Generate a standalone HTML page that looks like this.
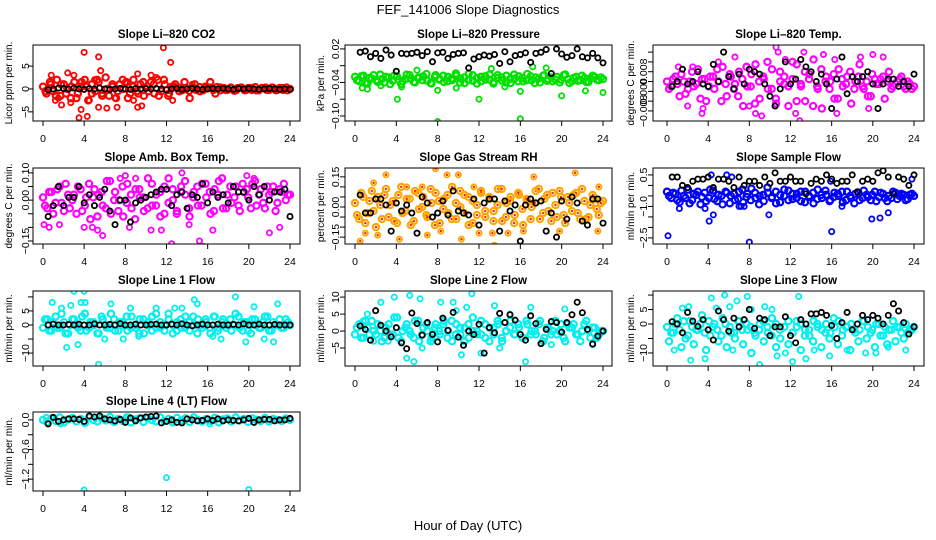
<!DOCTYPE html>
<html><head><meta charset="utf-8">
<style>
html,body{margin:0;padding:0;background:#fff;}
svg{display:block;font-family:"Liberation Sans",Arial,sans-serif;}
.t{font-size:11.5px;font-weight:bold;text-anchor:middle;}
.tk{font-size:10.5px;text-anchor:middle;}
.yl{font-size:10px;text-anchor:middle;}
</style></head>
<body>
<svg id="chart" width="936" height="540" viewBox="0 0 936 540" xmlns="http://www.w3.org/2000/svg">
<text x="468" y="14" style="font-size:13px;text-anchor:middle">FEF_141006  Slope Diagnostics</text>
<text x="468" y="530" style="font-size:13px;text-anchor:middle">Hour of Day (UTC)</text>
</svg>
<script>
const xTicks=[0,4,8,12,16,20,24];
// Panel 1 CO2
const p1Band1=[0.5,-1,1.5,-0.5,2,-1.5,1,0,-2,1.5,-1,0.5,2,-2.5,1,-0.5,1.5,-1,2.5,-1.5,0.5,-2,1,0,1.5,-1,2,-0.5,1,-1.5,0.5,1.5,-1,2,-0.5,1,-1.5,0.5,1,0.3,-0.3,0.2,-0.4,0.3,-0.2,0.4,-0.3,0.2,0.3,-0.2,0.4,-0.3,0.2,-0.2,0.3,-0.4,0.2,0.3,-0.3,0.2,-0.2,0.4,-0.3,0.2,0.3,-0.2,0.3,-0.3,0.2,-0.2,0.3,0];
const p1Band2=[-0.5,1,-1.5,1,-1,0.5,-2,1.5,0.5,-1,2,-1.5,0,1,-0.5,2,-2,0.5,-1,1.5,-0.5,1,-1.5,2,-1,0.5,-0.5,1.5,-2,1,-0.5,0.5,1.5,-1,0.3,-0.2,0.2,-0.3,0.3,-0.2,0.2,-0.3,0.2,-0.2,0.3,-0.2,0.2,-0.3];
const p1OutH=[0.8,1.5,1.8,2.7,3.5,3.7,4,4.3,4.5,5.4,5.6,5.4,6.2,7,7.2,8.8,9.2,9.2,9.6,10.5,11.7,12.4,12.6,14.5,3,2.4,5,1.2,8,11];
const p1OutV=[3,-2,-3.5,-3,-6.3,-4.5,8,-6,-2.5,7,4,-4,-4.2,-2,-4,-2.5,3.3,-4,-3.7,3,9,5.8,-2.5,1,3,3.5,2,-2.5,1.5,2.5];
const p1Blk=[-0.2,0,0.2,0.1,0,0.2,0,-0.1,0.1,0,0.2,0,-0.1,0,0.1,0,-0.1,0.1,0,0.1,0,0.1,0,-0.2,0,0.1,-0.1,0,0.1,0,-0.1,0,0.1,0,0.1,0,-0.1,0.1,0,0.1,0,-0.1,0,0.1,0,-0.1,0,-0.1];
// Panel 2 Pressure
const p2Band1=[-0.03,-0.038,-0.028,-0.042,-0.033,-0.036,-0.026,-0.04,-0.031,-0.037,-0.029,-0.043,-0.034,-0.027,-0.039,-0.032,-0.036,-0.025,-0.041,-0.03,-0.035,-0.028,-0.038,-0.033,-0.024,-0.04,-0.031,-0.036,-0.027,-0.042,-0.03,-0.035,-0.026,-0.039,-0.032,-0.037,-0.028,-0.041,-0.033,-0.029,-0.038,-0.025,-0.036,-0.031,-0.04,-0.027,-0.034,-0.038,-0.03,-0.035,-0.026,-0.041,-0.032,-0.037,-0.028,-0.039,-0.033,-0.03,-0.036,-0.034];
const p2Band2=[-0.036,-0.029,-0.041,-0.032,-0.027,-0.039,-0.034,-0.03,-0.043,-0.028,-0.035,-0.038,-0.026,-0.033,-0.04,-0.031,-0.029,-0.037,-0.042,-0.027,-0.034,-0.039,-0.03,-0.036,-0.028,-0.033,-0.041,-0.025,-0.037,-0.032,-0.038,-0.029,-0.035,-0.042,-0.027,-0.031,-0.04,-0.034,-0.026,-0.038,-0.032,-0.036,-0.029,-0.041,-0.033,-0.028,-0.037,-0.031,-0.035,-0.04,-0.027,-0.034,-0.038,-0.03,-0.036,-0.032,-0.039,-0.028,-0.035,-0.031];
const p2OutH=[0.1,0.7,1.2,4.1,8,8,12,16,16,20,22.3,24,4.5,9.8,17.2,13.2,2.5,6,14.5,18.5];
const p2OutV=[-0.115,-0.05,-0.052,-0.07,-0.054,-0.11,-0.07,-0.105,-0.056,-0.064,-0.055,-0.058,-0.048,-0.05,-0.012,-0.015,-0.046,-0.018,-0.048,-0.014];
const p2Blk=[0.014,0.016,0.006,0.012,0.003,0.018,0.009,-0.02,0.012,0.011,0.012,0.014,0.008,0.015,-0.003,0.013,0.014,0.003,0.01,0.012,0.013,-0.014,0.002,0.006,0.009,0.007,0.01,-0.006,0.015,-0.003,0.008,0.01,0.013,-0.004,0.012,0.014,0.019,-0.024,0.02,0.011,0.005,0.008,0.02,0.006,0.004,0.012,0.004,-0.005];
// Panel 3 Li-820 Temp
const p3Band1=[0.004,0.002,0.006,-0.002,0.004,0.001,0.008,0.003,-0.003,0.005,0.002,0.006,0.009,-0.004,0.003,0.007,0.001,-0.002,0.005,0.01,0.002,-0.005,0.004,0.006,0.012,0.001,-0.003,0.008,0.003,-0.006,0.005,0.011,0.002,-0.004,0.007,0.013,0.001,-0.007,0.006,0.004,-0.003,0.009,0.002,0.006,-0.005,0.004,0.011,0.001,-0.002,0.007,0.003,0.005,-0.003,0.008,0.002,0.004,0.006,0.001,0.003,0.002];
const p3Band2=[0.001,0.005,0.003,0.007,-0.001,0.004,0.002,0.009,0.005,-0.004,0.006,0.001,0.004,0.01,-0.002,0.006,0.003,0.008,-0.006,0.002,0.007,0.011,-0.003,0.005,0.001,0.009,-0.005,0.004,0.006,0.002,0.012,-0.004,0.003,0.008,0.005,-0.006,0.002,0.009,0.004,0.001,0.007,-0.003,0.005,0.003,0.008,0.001,0.006,0.002,0.004,-0.002,0.005,0.003,0.006,0.004,0.001,0.003,0.005,0.002,0.004,0.001];
const p3OutH=[1.1,2,3.4,5,6.6,8.6,9.2,10.6,10.8,11.5,12.5,12.9,13.3,14.9,15.2,16.5,18.8,19.6,21,3.5,8,16.3,2.5,20];
const p3OutV=[0.01,-0.006,-0.009,0.012,0.014,-0.009,-0.01,0.018,0.016,0.013,-0.009,-0.012,0.016,-0.015,0.015,-0.009,0.014,-0.007,0.014,-0.007,-0.006,0.013,0.01,0.015];
const p3Blk=[0.002,0.004,0.009,0.003,0.004,0.008,0.003,0.002,0.011,0.004,0.016,0.006,0.001,0.007,0.003,0.009,0.008,0.007,0.003,-0.002,-0.006,0.001,0.012,0.003,0.005,0.013,0.01,0.008,0.004,0.007,0.003,-0.007,0.005,0.014,-0.001,0.006,0.004,0.006,0.008,0.003,-0.007,0.003,0.005,0.005,0.002,0.004,0.002,0.007];
// Panel 4 Amb Box Temp
const p4Band1=[0.01,-0.03,0.03,-0.01,0.05,-0.04,0.02,0,-0.05,0.04,-0.02,0.06,0.01,-0.06,0.03,-0.03,0.07,0,-0.04,0.05,-0.01,0.02,-0.07,0.04,0.01,-0.03,0.06,-0.02,0.03,-0.05,0.08,0,-0.04,0.05,0.02,-0.06,0.03,-0.02,0.06,0.01,-0.05,0.04,0.07,-0.03,0.02,-0.01,0.05,-0.04,0.03,0.01,0.06,-0.02,0.04,-0.03,0.02,0.05,-0.01,0.03,0,0.02];
const p4Band2=[-0.02,0.03,-0.05,0.04,-0.01,0.06,-0.03,0.02,0.05,-0.04,0.01,-0.07,0.04,0.02,-0.02,0.07,-0.05,0.03,0,-0.06,0.06,-0.03,0.04,0.01,-0.04,0.08,-0.02,0.02,-0.06,0.05,-0.01,0.04,-0.05,0.03,0.07,-0.03,0.01,0.05,-0.02,0.06,0.03,-0.04,0.02,0.08,-0.03,0.05,0.01,-0.02,0.06,0.04,-0.03,0.07,0.02,-0.01,0.05,0.03,-0.04,0.04,0.06,0.02];
const p4OutH=[0.1,0.6,1.6,4,4.8,5.8,7.5,8,8.4,10.5,11.5,12.5,14.2,15.2,15.6,16.5,17.5,19.8,20.5,22,23,5.3,9,13.5];
const p4OutV=[-0.09,-0.1,-0.09,-0.1,-0.1,-0.13,0.08,0.09,-0.1,-0.11,-0.11,-0.16,-0.09,-0.15,-0.17,-0.11,0.13,0.09,0.08,-0.12,-0.1,-0.11,0.08,0.1];
const p4Blk=[-0.06,-0.02,0.05,-0.02,0.01,0.01,0.05,-0.01,0.02,-0.02,0.01,0.04,-0.04,-0.09,0,0,-0.08,-0.01,0,0.01,0.02,0.03,0.04,0.04,-0.02,0.02,0.03,-0.03,0.02,0.01,0.06,-0.01,0.03,0.01,0.02,-0.01,0.05,0.03,0.03,0,0.05,0.02,0.05,0,0.03,0.03,0.04,-0.06];
// Panel 5 Gas Stream RH
const p5Band1=[0.02,-0.06,0.05,-0.03,0.08,-0.1,0.01,0.06,-0.05,0.03,-0.08,0.1,-0.02,0.04,-0.07,0.07,0,-0.04,0.09,-0.09,0.03,-0.01,0.06,-0.06,0.02,0.08,-0.03,0.05,-0.08,0.01,0.07,-0.05,0.04,-0.02,0.09,-0.07,0.02,0.05,-0.04,0.06,-0.09,0.03,0,0.08,-0.06,0.04,-0.02,0.07,-0.05,0.05,-0.08,0.02,0.06,-0.03,0.09,-0.06,0.01,0.04,-0.04,0.03];
const p5Band2=[-0.04,0.07,-0.08,0.03,-0.02,0.05,-0.06,0.09,0.01,-0.07,0.06,-0.03,0.04,-0.09,0.08,-0.01,0.05,-0.05,0.02,0.07,-0.08,0.04,-0.03,0.1,-0.06,0,0.06,-0.09,0.03,-0.04,0.08,-0.02,0.05,-0.07,0.01,0.09,-0.05,0.03,-0.08,0.07,-0.01,0.04,-0.06,0.02,0.09,-0.03,0.06,-0.07,0.01,0.08,-0.04,0.05,-0.02,0.07,-0.06,0.03,-0.05,0.06,-0.01,0.02];
const p5OutH=[0.5,1,1.8,2.2,3,4.3,5,7,7.8,8.3,8.9,10,10.3,12,13.3,13.5,14.8,16.3,17.3,19.8,21.3,23.5,23.6,6.5,11.5];
const p5OutV=[-0.17,-0.13,0.12,-0.14,0.16,-0.16,0.1,-0.14,0.19,-0.12,0.16,0.16,-0.16,-0.13,-0.13,-0.19,-0.13,-0.12,0.15,-0.12,0.17,-0.12,0.1,0.1,0.1];
const p5Blk=[0.06,-0.03,-0.03,0.04,0.04,0.01,-0.12,0.02,-0.02,0.01,-0.03,-0.13,0.05,0.02,-0.05,-0.03,0.03,-0.04,0.08,-0.02,-0.03,-0.04,0.04,-0.09,0.02,0.04,0.04,-0.12,0.03,-0.02,0.01,-0.17,0.01,0.04,0.02,0.03,-0.12,-0.03,-0.15,0.03,-0.06,0.05,0.02,-0.07,-0.09,0.04,0.04,-0.08];
// Panel 6 Sample Flow
const p6Band1=[-0.3,-0.6,-0.4,-0.8,-0.5,-0.2,-0.7,-0.45,-0.9,-0.35,-0.6,-0.25,-0.75,-0.5,-0.3,-0.85,-0.4,-0.65,-0.2,-0.55,-0.7,-0.35,-0.9,-0.45,-0.1,-0.6,-0.3,-0.8,-0.5,-0.25,-0.65,-0.4,-0.75,-0.3,-0.55,-0.85,-0.2,-0.6,-0.45,-0.7,-0.35,-0.5,-0.8,-0.3,-0.6,-0.4,-0.7,-0.25,-0.55,-0.45,-0.75,-0.35,-0.6,-0.5,-0.3,-0.65,-0.4,-0.7,-0.45,-0.5];
const p6Band2=[-0.5,-0.35,-0.7,-0.25,-0.6,-0.85,-0.4,-0.3,-0.55,-0.75,-0.2,-0.65,-0.45,-0.9,-0.35,-0.5,-0.7,-0.3,-0.8,-0.4,-0.15,-0.6,-0.5,-0.75,-0.35,-0.55,-0.85,-0.45,-0.2,-0.7,-0.4,-0.6,-0.3,-0.8,-0.5,-0.35,-0.65,-0.45,-0.25,-0.75,-0.55,-0.4,-0.3,-0.7,-0.5,-0.85,-0.35,-0.6,-0.45,-0.7,-0.3,-0.55,-0.4,-0.75,-0.6,-0.35,-0.5,-0.45,-0.65,-0.4];
const p6OutH=[0.1,1.2,3.7,4.1,4.5,7,7.2,7.5,8,9.9,15.9,16,17,19.9,20.7,21.5,23.8,4.3,5.8,6.3];
const p6OutV=[-2.4,-1.1,-1.1,-1.7,-1.4,-1,-1,-1,-2.7,-1.4,0.2,-2.2,-1,-1.6,-1.55,-1.3,0.3,0.5,0.5,0.4];
const p6Blk=[0.4,0.4,0,-0.1,0.2,0.3,0.3,0.4,-0.1,0.3,0.3,0.2,-0.1,0.4,0,0.2,0.2,0,0.4,0.1,0.6,0.2,0.2,0.4,0.2,0.2,-0.4,0.1,0.3,0.2,0.5,0.3,0.1,0.2,0.2,0.5,-0.3,0.2,0.3,0.2,0.6,0.7,0.4,-0.4,0.4,0.3,0,0.5];
// Panel 7 Line 1 Flow
const p7Band1=[-1,2,-2,3,-1,1,-3,2,0,-2,4,-1,1,-3,3,0,-1,2,-2,1,3,-1,0,-3,2,1,-2,4,-1,0,2,-3,1,-1,3,-2,0,2,-1,1,-3,3,-1,2,0,-2,4,-1,1,-2,2,0,-1,3,-2,1,0,-1,2,0];
const p7Band2=[2,-2,1,-1,4,-3,0,2,-1,3,-2,1,0,-3,2,-1,4,-2,1,0,-2,3,-1,2,-3,0,3,-1,1,-2,4,0,-2,2,-1,1,3,-3,0,2,-1,3,-2,1,-1,2,0,3,-2,1,-3,2,-1,1,3,-2,0,2,-1,1];
const p7OutH=[0.9,2.3,2.7,3,3.4,3.7,4,4.1,5.4,6,6.6,7.8,8.5,11,13.5,14.7,15,16.5,17.3,18.7,19.7,20.5,21.5,22.4,22.8,1.8,12.8,9.3];
const p7OutV=[8,-8,7,12,-7,8,12,8,-14,-5,7.5,-5,6,6,6,9,7.5,-4,-5,10,-6,6.5,-5,-6,7.5,6,6,-4];
const p7Blk=[0,0.3,0,0,0.2,0,0.3,0,0,0.4,0,0,0.2,0,0.5,0,0,0.3,0,0,0.2,0.3,0,0,0.3,0,0.4,0,-0.3,0,0.3,0,0,0.3,0,0,0.2,0,0.4,0,0,0.3,0,0,0.2,0,0,0];
// Panel 8 Line 2 Flow
const p8Band1=[-1,2,-2,1,3,-1,0,-2,2,-1,4,-3,1,0,-2,3,-1,2,-3,1,0,2,-2,3,-1,1,-3,2,0,-1,3,-2,1,-1,2,-3,0,3,-1,1,-2,2,0,-1,3,-2,1,0,-1,2,-3,1,2,-1,0,3,-2,1,-1,0];
const p8Band2=[1,-2,3,-1,0,2,-3,1,-1,4,-2,0,2,-1,3,-3,1,0,-2,2,-1,3,0,-3,2,-1,1,-2,4,0,-1,2,-3,1,3,-2,0,1,-1,2,-2,3,-1,0,2,-3,1,-1,3,0,-2,2,1,-1,-3,2,0,1,-2,0];
const p8OutH=[0.8,1.8,2.5,3.2,3.8,4.5,5,5.3,5.7,6.3,6.5,7.5,8.3,9.5,10.3,10.8,11.3,12.2,13.5,14,15,16.5,17,19,20.3,23,9.8,1.2];
const p8OutV=[3,-3,8.5,-3,10,-3,-8,10.5,-9,9.5,-5,-3,8.5,8.5,-7,7,11,-6.5,7.5,-5,5,-9,7,-4,6.5,-4,6,5];
const p8Blk=[1.5,0.5,-2.7,6,1.7,0,-1.7,1,-3.5,-5.2,5.3,2.2,-1.2,2.5,-1,-3.2,3.8,0.2,5.5,-1.8,-4.2,0,-1,2,-6.5,1,-0.5,5.2,2.5,4.8,3.2,-1,-2.7,4.5,2.2,-3.7,0.5,2.8,2.5,-0.3,2.5,4.8,8.5,5.4,0.5,-3.8,-1.5,0];
// Panel 9 Line 3 Flow
const p9Band1=[-1,-3,0,-2,1,-4,-1,-2,0,-3,1,-1,-2,-4,0,-1,-3,1,-2,0,-1,-3,-2,1,-1,-4,0,-2,-1,1,-3,-1,0,-2,-4,1,-1,-2,0,-3,-1,1,-2,-1,0,-3,-2,1,-1,-2,0,-4,-1,-2,1,-1,-3,0,-2,-1];
const p9Band2=[-6,-3,2,-8,-5,1,-7,-2,3,-9,-4,0,-6,2,-8,-3,-5,1,-7,-2,-10,-4,0,-6,-3,2,-8,-5,-1,-7,-3,1,-9,-4,-2,-6,0,-8,-3,-5,2,-7,-4,-1,-9,-2,-6,1,-5,-3,-8,0,-4,-7,-2,-6,-1,-5,-3,-2];
const p9OutH=[0.7,1.5,2.3,3.7,4.3,4.8,5.6,6.1,6.8,7.8,8.2,9,9.5,10.2,10.7,11.5,12.2,12.8,13.5,14.3,15.8,17.5,19.3,20.3,21.5,23.2,6.4,2.1];
const p9OutV=[-9,5.5,-12.5,-12,9,5.5,10,6,8,9.5,5,-14,6,5,-11,-10,-13,9.5,-12,-9,-11,-9,-10,-10,-8,-9,-9,6];
const p9Blk=[0.8,0,-3,4,1,-0.8,1.5,-2,-5.5,4.5,1.5,-2.5,2,-1,1.5,5,-1.5,2,1.5,-4,-1,-1,2.5,-4,-6.5,1.5,0,3.5,3.5,4,3,-0.5,-5,0.5,4,-2,0,3,1.5,3,2,0,3,7,4.5,0.5,-3.5,-1];
// Panel 10 Line 4 (LT) Flow
const p10Band1=[0,-0.04,0.03,-0.02,0.05,-0.05,0.01,0.04,-0.03,0.02,-0.06,0.05,0,-0.03,0.04,-0.01,0.06,-0.04,0.02,-0.02,0.05,-0.05,0.01,0.03,-0.04,0.04,0,-0.03,0.05,-0.02,0.02,-0.05,0.04,-0.01,0.03,-0.04,0.05,0,-0.03,0.02,-0.02,0.04,-0.05,0.01,0.03,-0.03,0.05,-0.01,0.02,-0.04,0.03,0,-0.02,0.04,-0.03,0.02,0,-0.02,0.03,0];
const p10OutH=[4,12,20,0.3,1.7,8.3,16.2,5.5];
const p10OutV=[-1.42,-1.17,-1.41,0.05,-0.08,0.06,-0.08,0.08];
const p10Blk=[-0.08,0.05,-0.03,0,0.02,0.02,0.01,-0.03,0.08,0.06,0.08,0.02,0,-0.02,0.01,-0.05,0.04,-0.02,0.04,0.06,0.07,0.08,-0.06,-0.03,0,-0.05,-0.06,0.02,0,-0.02,-0.01,0.02,-0.01,0.02,-0.02,0,-0.01,-0.02,0,0.03,-0.05,0,0.01,0.01,-0.02,0,0,0.03];

const panels=[
 {id:'co2',title:'Slope Li\u2013820 CO2',ylab:'Licor ppm per min.',col:'#ff0000',bx:[33,45,300,121],hx:[43,290],yr:[-7,9.6],ticks:[-5,0,5],labels:['\u22125','0','5'],b1:p1Band1,b2:p1Band2,oh:p1OutH,ov:p1OutV,blk:p1Blk,lx:25,yx:8},
 {id:'pressure',title:'Slope Li\u2013820 Pressure',ylab:'kPa per min.',col:'#00e000',bx:[345,45,612,121],hx:[355,603],yr:[-0.109,0.027],ticks:[-0.10,-0.07,-0.04,-0.01,0.02],labels:['\u22120.10','','\u22120.04','','0.02'],b1:p2Band1,b2:p2Band2,oh:p2OutH,ov:p2OutV,blk:p2Blk,lx:335,yx:320},
 {id:'li820-temp',title:'Slope Li\u2013820 Temp.',ylab:'degrees C per min.',col:'#ff00ff',bx:[653,45,924,121],hx:[667,914],yr:[-0.0121,0.0189],ticks:[-0.008,-0.004,0,0.004,0.008,0.012,0.016],labels:['\u22120.008','','0.000','','0.008','',''],b1:p3Band1,b2:p3Band2,oh:p3OutH,ov:p3OutV,blk:p3Blk,lx:643,yx:630},
 {id:'amb-box-temp',title:'Slope Amb. Box Temp.',ylab:'degrees C per min.',col:'#ff00ff',bx:[33,168,300,244],hx:[43,290],yr:[-0.161,0.118],ticks:[-0.15,-0.10,-0.05,0,0.05,0.10],labels:['\u22120.15','','','0.00','','0.10'],b1:p4Band1,b2:p4Band2,oh:p4OutH,ov:p4OutV,blk:p4Blk,lx:25,yx:8},
 {id:'gas-stream-rh',title:'Slope Gas Stream RH',ylab:'percent per min.',col:'#ffa500',bx:[345,168,612,244],hx:[355,603],yr:[-0.184,0.194],ticks:[-0.15,-0.10,-0.05,0,0.05,0.10,0.15],labels:['\u22120.15','','','0.00','','','0.15'],b1:p5Band1,b2:p5Band2,oh:p5OutH,ov:p5OutV,blk:p5Blk,lx:335,yx:320,inner:'#ff2000'},
 {id:'sample-flow',title:'Slope Sample Flow',ylab:'ml/min per min.',col:'#0000ff',bx:[653,168,924,244],hx:[667,914],yr:[-2.79,0.83],ticks:[-2.5,-2,-1.5,-1,-0.5,0,0.5],labels:['\u22122.5','','','\u22121.0','','','0.5'],b1:p6Band1,b2:p6Band2,oh:p6OutH,ov:p6OutV,blk:p6Blk,lx:643,yx:630},
 {id:'line1-flow',title:'Slope Line 1 Flow',ylab:'ml/min per min.',col:'#00f0f0',bx:[33,291,300,366],hx:[43,290],yr:[-14.6,12.1],ticks:[-10,-5,0,5,10],labels:['\u221210','','0','5',''],b1:p7Band1,b2:p7Band2,oh:p7OutH,ov:p7OutV,blk:p7Blk,lx:25,yx:8},
 {id:'line2-flow',title:'Slope Line 2 Flow',ylab:'ml/min per min.',col:'#00f0f0',bx:[345,291,612,366],hx:[355,603],yr:[-10.3,11.8],ticks:[-5,0,5,10],labels:['\u22125','0','5','10'],b1:p8Band1,b2:p8Band2,oh:p8OutH,ov:p8OutV,blk:p8Blk,lx:335,yx:320},
 {id:'line3-flow',title:'Slope Line 3 Flow',ylab:'ml/min per min.',col:'#00f0f0',bx:[653,291,924,366],hx:[667,914],yr:[-14.5,11.4],ticks:[-10,-5,0,5,10],labels:['\u221210','','0','5',''],b1:p9Band1,b2:p9Band2,oh:p9OutH,ov:p9OutV,blk:p9Blk,lx:643,yx:630},
 {id:'line4-flow',title:'Slope Line 4 (LT) Flow',ylab:'ml/min per min.',col:'#00f0f0',bx:[33,412,300,491],hx:[43,290],yr:[-1.44,0.16],ticks:[-1.2,-0.9,-0.6,-0.3,0],labels:['\u22121.2','','\u22120.6','','0.0'],b1:p10Band1,b2:null,oh:p10OutH,ov:p10OutV,blk:p10Blk,lx:25,yx:8}
];
const NS='http://www.w3.org/2000/svg';
const svg=document.getElementById('chart');
function mk(tag,attrs,parent){const e=document.createElementNS(NS,tag);for(const k in attrs)e.setAttribute(k,attrs[k]);(parent||svg).appendChild(e);return e;}
panels.forEach(p=>{
  const g=mk('g',{});
  
  
  const [x0,y0,x1,y1]=p.bx;
  const xs=h=>p.hx[0]+(p.hx[1]-p.hx[0])*h/24;
  const ys=v=>y1-(v-p.yr[0])/(p.yr[1]-p.yr[0])*(y1-y0);
  const cx=(x0+x1)/2;
  const t=mk('text',{x:cx,y:y0-7,class:'t'},g);t.textContent=p.title;
  
  
  const cp=mk('clipPath',{id:'c-'+p.id},g);mk('rect',{x:x0,y:y0,width:x1-x0,height:y1-y0},cp);
  const pts=mk('g',{'clip-path':'url(#c-'+p.id+')'},g);
  function dot(h,v,color,inner,r,sw){
    const c=mk('circle',{cx:xs(h),cy:ys(v),r:r,fill:'none',stroke:color,'stroke-width':sw},pts);
    
    
    if(inner){mk('circle',{cx:xs(h),cy:ys(v),r:1.2,fill:inner},pts);}
  }
  const n1=p.b1.length;
  p.b1.forEach((v,i)=>dot(i*24/(n1-1),v,p.col,p.inner,3.1,2.2));
  if(p.b2){const n2=p.b2.length;p.b2.forEach((v,i)=>dot((i+0.5)*24/n2,v,p.col,p.inner,3.1,2.2));}
  p.oh.forEach((h,i)=>dot(h,p.ov[i],p.col,p.inner,2.6,1.8));
  const nb=p.blk.length;
  p.blk.forEach((v,i)=>{
    const c=mk('circle',{cx:xs((i+1)*24/nb),cy:ys(v),r:2.6,fill:'none',stroke:'#000','stroke-width':1.8},pts);
    
    
  });
  const box=mk('rect',{x:x0,y:y0,width:x1-x0,height:y1-y0,fill:'none',stroke:'#000','stroke-width':1},g);
  
  
  xTicks.forEach(h=>{
    mk('line',{x1:xs(h),x2:xs(h),y1:y1,y2:y1+5,stroke:'#000'},g);
    const tl=mk('text',{x:xs(h),y:y1+21,class:'tk'},g);tl.textContent=h;
    
    
  });
  p.ticks.forEach((v,i)=>{
    mk('line',{x1:x0-5,x2:x0,y1:ys(v),y2:ys(v),stroke:'#000'},g);
    if(p.labels[i]){
      const tl=mk('text',{x:p.lx,y:ys(v),class:'tk',transform:'rotate(-90 '+p.lx+' '+ys(v)+')'},g);
      tl.textContent=p.labels[i];
      
      
    }
  });
  const ym=(y0+y1)/2;
  const yl=mk('text',{x:p.yx,y:ym,class:'yl',transform:'rotate(-90 '+p.yx+' '+ym+')'},g);
  yl.textContent=p.ylab;
  
  
});
document.querySelectorAll('text.tk[transform]').forEach(e=>e.setAttribute('dy','4'));
document.querySelectorAll('text.yl').forEach(e=>e.setAttribute('dy','4'));
</script>
</body></html>
